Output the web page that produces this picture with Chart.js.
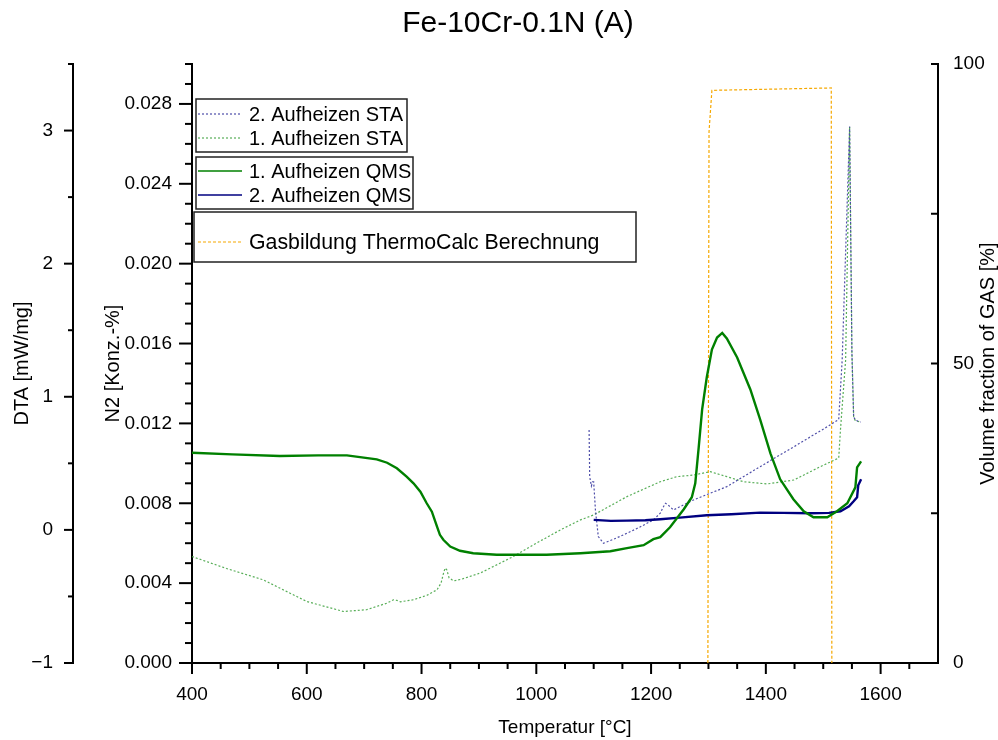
<!DOCTYPE html>
<html>
<head>
<meta charset="utf-8">
<script src="https://cdn.jsdelivr.net/npm/chart.js@4.4.1/dist/chart.umd.min.js"></script>
<style>
  html, body { margin: 0; padding: 0; background: #fff; }
</style>
</head>
<body>
<canvas id="dta-chart" width="998" height="740"></canvas>
<script>
// 1. Aufheizen QMS - N2 signal
const tQms1 = [400, 470, 553, 620, 670, 722, 740, 757, 774, 786, 798, 809, 818, 827, 832, 838, 850, 867, 890, 931, 1018, 1077, 1129, 1158, 1187, 1204, 1216, 1233, 1257, 1271, 1277, 1283, 1289, 1297, 1306, 1315, 1324, 1332, 1350, 1373, 1390, 1408, 1425, 1448, 1466, 1483, 1507, 1524, 1542, 1556, 1559, 1566];
const n2Qms1 = [0.01053, 0.01045, 0.01037, 0.0104, 0.0104, 0.0102, 0.01003, 0.00975, 0.00933, 0.0090, 0.00858, 0.0080, 0.00758, 0.00683, 0.00642, 0.00617, 0.00583, 0.00562, 0.0055, 0.00542, 0.00542, 0.0055, 0.0056, 0.00575, 0.0059, 0.0062, 0.0063, 0.0068, 0.0077, 0.0083, 0.0090, 0.0108, 0.0127, 0.0143, 0.0157, 0.0163, 0.01653, 0.01625, 0.0153, 0.0137, 0.0122, 0.0105, 0.0092, 0.0082, 0.0076, 0.0073, 0.0073, 0.0076, 0.0080, 0.0088, 0.0098, 0.0101];

// 2. Aufheizen QMS - N2 signal
const tQms2 = [1100, 1130, 1158, 1190, 1216, 1250, 1297, 1340, 1390, 1430, 1478, 1510, 1530, 1545, 1553, 1559, 1561, 1566];
const n2Qms2 = [0.00717, 0.00712, 0.00713, 0.00715, 0.0072, 0.00728, 0.0074, 0.00745, 0.00753, 0.00752, 0.0075, 0.00752, 0.0076, 0.00785, 0.0081, 0.0083, 0.0089, 0.0092];

// 1. Aufheizen STA - DTA signal
const tSta1 = [400, 460, 524, 600, 664, 704, 740, 751, 757, 763, 786, 810, 827, 834, 838, 841, 844, 848, 856, 870, 902, 960, 1000, 1042, 1077, 1100, 1158, 1216, 1245, 1274, 1303, 1332, 1361, 1402, 1449, 1495, 1527, 1530, 1539, 1546, 1550, 1553, 1556, 1565];
const dtaSta1 = [-0.2, -0.29, -0.375, -0.538, -0.613, -0.6, -0.55, -0.525, -0.53, -0.54, -0.525, -0.49, -0.45, -0.4, -0.33, -0.287, -0.3, -0.36, -0.383, -0.37, -0.325, -0.2, -0.1, 0, 0.075, 0.1125, 0.25, 0.362, 0.4, 0.412, 0.4375, 0.4, 0.362, 0.345, 0.375, 0.475, 0.54, 0.75, 1.275, 3.03, 1.33, 0.85, 0.82, 0.81];

// 2. Aufheizen STA - DTA signal
const tSta2 = [1092, 1093, 1094, 1096, 1098, 1100, 1103, 1108, 1117, 1135, 1158, 1180, 1204, 1216, 1221, 1225, 1229, 1239, 1274, 1332, 1390, 1449, 1507, 1527, 1533, 1546, 1550, 1553, 1556, 1565];
const dtaSta2 = [0.75, 0.4, 0.375, 0.33, 0.36, 0.36, 0.15, -0.05, -0.1, -0.07, -0.025, 0.02, 0.075, 0.125, 0.17, 0.2, 0.19, 0.15, 0.225, 0.325, 0.475, 0.625, 0.775, 0.83, 1.275, 3.03, 1.33, 0.85, 0.825, 0.81];

// ThermoCalc gas fraction
const tGas = [1299, 1301, 1306, 1514, 1515];
const gasFraction = [0, 88.7, 95.6, 96.0, 0];

// axis tick values
const xTicks = [400, 600, 800, 1000, 1200, 1400, 1600];
const dtaTicks = [-1, 0, 1, 2, 3];
const n2Ticks = [0, 0.004, 0.008, 0.012, 0.016, 0.020, 0.024, 0.028];
const gasTicks = [0, 50, 100];

const pts = (xs, ys) => xs.map((x, i) => ({x: x, y: ys[i]}));

Chart.defaults.font.family = "'Liberation Sans', Arial, sans-serif";
Chart.defaults.color = '#000';

const FONT = 19;

// tick marks, titles and legend boxes drawn on top of the chart
const decor = {
  id: 'decor',
  afterDraw(chart) {
    const ctx = chart.ctx;
    const area = chart.chartArea;
    const s = chart.scales;
    ctx.save();
    ctx.strokeStyle = '#000';
    ctx.lineWidth = 2;
    const seg = (x1, y1, x2, y2) => { ctx.beginPath(); ctx.moveTo(x1, y1); ctx.lineTo(x2, y2); ctx.stroke(); };

    for (let i = 0; i < 26; i++) {
      const px = s.x.getPixelForValue(400 + i * 50);
      seg(px, area.bottom, px, area.bottom + (i % 4 === 0 ? 11 : 6));
    }
    for (let i = 0; i <= 30; i++) {
      const py = s.yN2.getPixelForValue(i * 0.001);
      seg(s.yN2.right, py, s.yN2.right - (i % 4 === 0 ? 13 : 7), py);
    }
    for (let i = 0; i <= 9; i++) {
      const py = s.yDta.getPixelForValue(-1 + i * 0.5);
      seg(s.yDta.right, py, s.yDta.right - (i % 2 === 0 ? 9 : 5), py);
    }
    for (let i = 0; i <= 4; i++) {
      const py = s.yGas.getPixelForValue(i * 25);
      seg(area.right, py, area.right - 7, py);
    }

    ctx.fillStyle = '#000';
    ctx.textAlign = 'center';
    ctx.textBaseline = 'middle';
    ctx.font = "30px 'Liberation Sans', Arial, sans-serif";
    ctx.fillText('Fe-10Cr-0.1N (A)', 518, 24);

    ctx.save();
    ctx.translate(988, (area.top + area.bottom) / 2);
    ctx.rotate(-Math.PI / 2);
    ctx.font = "20px 'Liberation Sans', Arial, sans-serif";
    ctx.fillText('Volume fraction of GAS [%]', 0, 0);
    ctx.restore();

    // legend: three framed groups
    const groups = [
      {box: [196, 99, 211, 53], size: 20, rows: [[2, 114], [3, 138]]},
      {box: [196, 157, 217, 52], size: 20, rows: [[0, 171], [1, 195]]},
      {box: [194, 212, 442, 50], size: 21.3, rows: [[4, 242]]}
    ];
    ctx.textAlign = 'left';
    for (const g of groups) {
      ctx.setLineDash([]);
      ctx.strokeStyle = '#222';
      ctx.lineWidth = 1.5;
      ctx.strokeRect(g.box[0], g.box[1], g.box[2], g.box[3]);
      ctx.font = g.size + "px 'Liberation Sans', Arial, sans-serif";
      for (const [idx, y] of g.rows) {
        const ds = chart.data.datasets[idx];
        ctx.strokeStyle = ds.borderColor;
        ctx.lineWidth = Math.min(ds.borderWidth, 1.6);
        ctx.setLineDash(ds.borderDash || []);
        seg(198, y, 242, y);
        ctx.setLineDash([]);
        ctx.fillStyle = '#000';
        ctx.fillText(ds.label, 249, y + 1);
      }
    }
    ctx.restore();
  }
};

const yBase = (min, max, ticks, fmt, width, pad, title, titlePad, weight) => ({
  type: 'linear',
  position: 'left',
  weight: weight,
  min: min,
  max: max,
  afterBuildTicks: sc => { sc.ticks = ticks.map(v => ({value: v})); },
  afterFit: sc => { sc.width = width; },
  grid: {display: false},
  border: {display: true, color: '#000', width: 2},
  ticks: {padding: pad, font: {size: FONT}, color: '#000', callback: fmt, autoSkip: false},
  title: {display: true, text: title, font: {size: 20}, color: '#000', padding: {top: titlePad, bottom: 0}}
});

new Chart(document.getElementById('dta-chart'), {
  type: 'line',
  data: {
    datasets: [
      {
        label: '1. Aufheizen QMS',
        data: pts(tQms1, n2Qms1),
        yAxisID: 'yN2',
        borderColor: '#008000',
        borderWidth: 2.4,
        pointRadius: 0
      }, {
        label: '2. Aufheizen QMS',
        data: pts(tQms2, n2Qms2),
        yAxisID: 'yN2',
        borderColor: '#000080',
        borderWidth: 2.4,
        pointRadius: 0
      }, {
        label: '2. Aufheizen STA',
        data: pts(tSta2, dtaSta2),
        yAxisID: 'yDta',
        borderColor: 'rgba(60,60,160,0.9)',
        borderWidth: 1.2,
        borderDash: [2, 2],
        pointRadius: 0
      }, {
        label: '1. Aufheizen STA',
        data: pts(tSta1, dtaSta1),
        yAxisID: 'yDta',
        borderColor: 'rgba(70,165,70,0.9)',
        borderWidth: 1.2,
        borderDash: [2, 2],
        pointRadius: 0
      }, {
        label: 'Gasbildung ThermoCalc Berechnung',
        data: pts(tGas, gasFraction),
        yAxisID: 'yGas',
        borderColor: '#f5a800',
        borderWidth: 1.2,
        borderDash: [3, 2],
        pointRadius: 0
      }
    ]
  },
  options: {
    responsive: false,
    devicePixelRatio: 1,
    animation: false,
    events: [],
    layout: {padding: {top: 64, left: 0, right: 0, bottom: 0}},
    elements: {line: {tension: 0}},
    plugins: {
      legend: {display: false},
      tooltip: {enabled: false}
    },
    scales: {
      x: {
        type: 'linear',
        position: 'bottom',
        min: 400,
        max: 1700,
        afterBuildTicks: sc => { sc.ticks = xTicks.map(v => ({value: v})); },
        afterFit: sc => { sc.height = 77; },
        grid: {display: false},
        border: {display: true, color: '#000', width: 2},
        ticks: {padding: 12, font: {size: FONT}, color: '#000', maxRotation: 0, autoSkip: false, callback: v => String(v)},
        title: {display: true, text: 'Temperatur [°C]', font: {size: FONT}, color: '#000', padding: {top: 0, bottom: 1}}
      },
      yN2: yBase(0, 0.030, n2Ticks, v => v.toFixed(3), 119, 12, 'N2 [Konz.-%]', 28, 0),
      yDta: yBase(-1, 3.5, dtaTicks, v => (v < 0 ? '\u2212' + Math.abs(v) : String(v)), 73, 12, 'DTA [mW/mg]', 10, 10),
      yGas: {
        type: 'linear',
        position: 'right',
        min: 0,
        max: 100,
        afterBuildTicks: sc => { sc.ticks = gasTicks.map(v => ({value: v})); },
        afterFit: sc => { sc.width = 60; },
        grid: {display: false},
        border: {display: true, color: '#000', width: 2},
        ticks: {padding: 7, font: {size: FONT}, color: '#000', autoSkip: false}
      }
    }
  },
  plugins: [decor]
});
</script>
</body>
</html>
